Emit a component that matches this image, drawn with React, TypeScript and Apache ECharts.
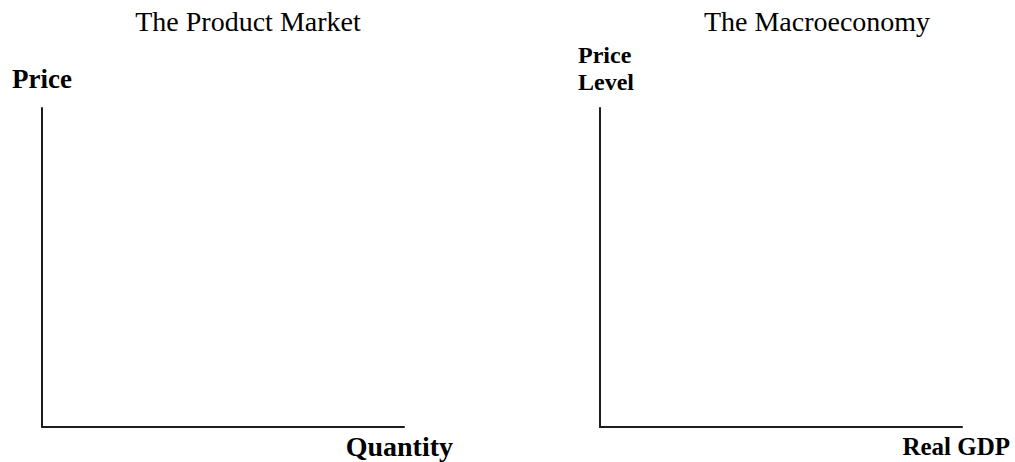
import React, { useEffect, useRef } from "react";
import * as echarts from "echarts";

// Two blank diagrams: no curves are drawn in the reference.
const panelTitles = ["The Product Market", "The Macroeconomy"];
const yAxisNames = ["Price", "Price\nLevel"];
const xAxisNames = ["Quantity", "Real GDP"];
const productMarketCurve: number[][] = [];
const macroeconomyCurve: number[][] = [];

const FONT = "'Liberation Serif', 'Times New Roman', serif";
const INK = "#1c1c1c";

export default function App() {
  const ref = useRef<HTMLDivElement>(null);
  useEffect(() => {
    if (!ref.current) return;
    const chart = echarts.init(ref.current, null, { renderer: "svg" });
    const axisBase = {
      type: "value" as const,
      min: 0,
      max: 10,
      axisLine: { show: true, lineStyle: { color: INK, width: 2 } },
      axisTick: { show: false },
      axisLabel: { show: false },
      splitLine: { show: false },
    };
    chart.setOption({
      animation: false,
      backgroundColor: "#ffffff",
      grid: [
        { left: 42, top: 108, width: 362, height: 319 },
        { left: 600, top: 108, width: 362, height: 319 },
      ],
      xAxis: [
        { ...axisBase, gridIndex: 0 },
        { ...axisBase, gridIndex: 1 },
      ],
      yAxis: [
        { ...axisBase, gridIndex: 0 },
        { ...axisBase, gridIndex: 1 },
      ],
      series: [
        { type: "line", xAxisIndex: 0, yAxisIndex: 0, data: productMarketCurve, symbol: "none" },
        { type: "line", xAxisIndex: 1, yAxisIndex: 1, data: macroeconomyCurve, symbol: "none" },
      ],
      graphic: [
        {
          type: "text", x: 248, y: 21,
          style: { text: panelTitles[0], font: `28px ${FONT}`, fill: "#000", align: "center", verticalAlign: "middle" },
        },
        {
          type: "text", x: 817, y: 21,
          style: { text: panelTitles[1], font: `28px ${FONT}`, fill: "#000", align: "center", verticalAlign: "middle" },
        },
        {
          type: "text", x: 42, y: 79,
          style: { text: yAxisNames[0], font: `bold 27px ${FONT}`, fill: "#000", align: "center", verticalAlign: "middle" },
        },
        {
          type: "text", x: 578, y: 68,
          style: { text: yAxisNames[1], font: `bold 24px ${FONT}`, lineHeight: 27, fill: "#000", align: "left", verticalAlign: "middle" },
        },
        {
          type: "text", x: 453, y: 446,
          style: { text: xAxisNames[0], font: `bold 28px ${FONT}`, fill: "#000", align: "right", verticalAlign: "middle" },
        },
        {
          type: "text", x: 1010, y: 446,
          style: { text: xAxisNames[1], font: `bold 25px ${FONT}`, fill: "#000", align: "right", verticalAlign: "middle" },
        },
      ],
    });
    return () => chart.dispose();
  }, []);
  return (
    <div
      ref={ref}
      style={{ position: "absolute", left: 0, top: 0, width: 1015, height: 462, background: "#fff" }}
    />
  );
}
